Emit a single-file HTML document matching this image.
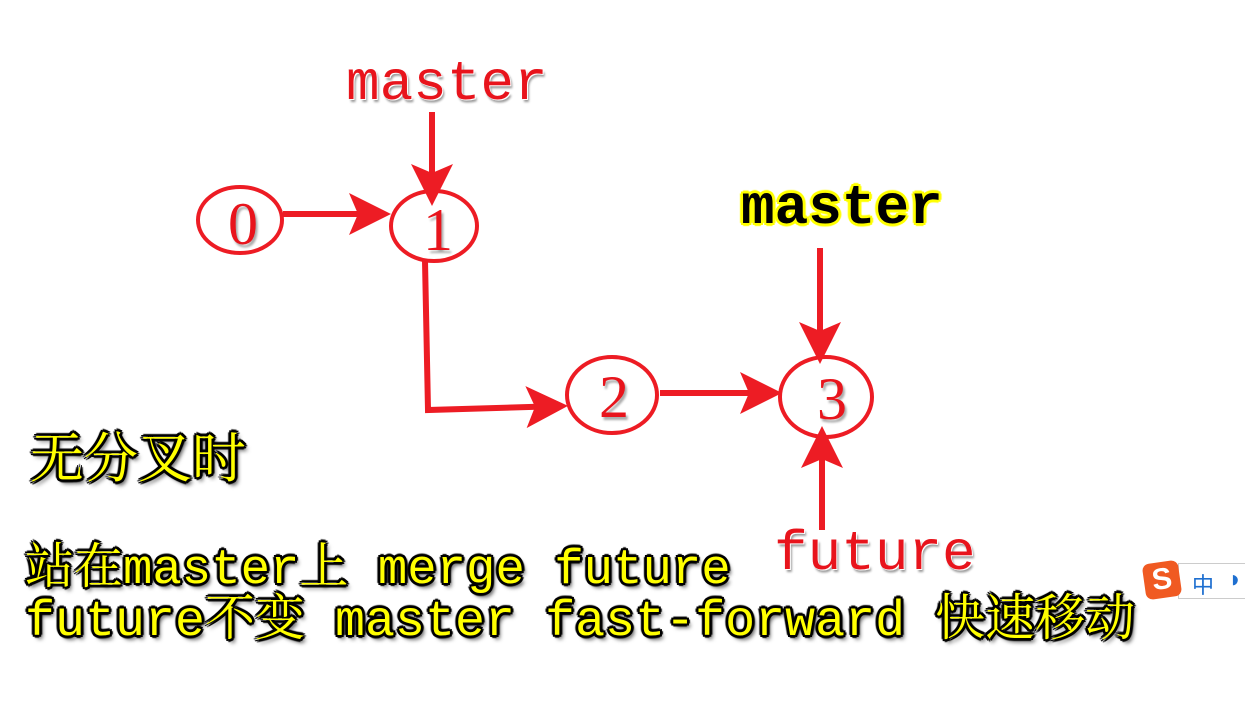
<!DOCTYPE html>
<html><head><meta charset="utf-8"><style>
body{margin:0;width:1245px;height:720px;background:#fff;overflow:hidden;position:relative}
.t{position:absolute;white-space:pre;line-height:1}
.yl{font-family:"Liberation Mono","Noto Serif CJK SC",monospace;color:#ffff00;text-shadow:-2px -2px 0 #000,2px -2px 0 #000,-2px 2px 0 #000,2px 2px 0 #000,0 3px 1px #000,3px 0 1px #000,0 -3px 1px #000,-3px 0 1px #000,3px 4px 4px #444}
.rd{font-family:"Liberation Mono",monospace;color:#e8141c;text-shadow:1px 1px 0 #fff,2px 3px 2px #999}
</style></head><body>
<svg width="1245" height="720" style="position:absolute;left:0;top:0">
<defs><marker id="a" markerWidth="7" markerHeight="7" refX="6" refY="3.5" orient="auto"><path d="M0,0 L7,3.5 L0,7 L1.5,3.5 Z" fill="#ed1c24"/></marker></defs>
<g fill="none" stroke="#ed1c24" stroke-width="4">
<ellipse cx="240" cy="220" rx="42" ry="33"/>
<ellipse cx="434" cy="226" rx="43" ry="35"/>
<ellipse cx="612" cy="395" rx="45" ry="38"/>
<ellipse cx="826" cy="397" rx="46" ry="40"/>
<path d="M283,214 L385,214" stroke-width="6" marker-end="url(#a)"/>
<path d="M432,112 L432,200" stroke-width="6" marker-end="url(#a)"/>
<path d="M425,261 L428,410 L562,406" stroke-width="6" marker-end="url(#a)"/>
<path d="M660,393 L776,393" stroke-width="6" marker-end="url(#a)"/>
<path d="M820,248 L820,358" stroke-width="6" marker-end="url(#a)"/>
<path d="M822,530 L822,432" stroke-width="6" marker-end="url(#a)"/>
</g>
<g font-family="Liberation Serif,serif" font-size="60" fill="#e8141c" text-anchor="middle" style="text-shadow:2px 3px 2px #aaa">
<text x="243" y="244">0</text><text x="438" y="250">1</text><text x="614" y="417">2</text><text x="832" y="419">3</text>
</g>
</svg>
<div class="t rd" style="left:346px;top:56px;font-size:56px">master</div>
<div class="t rd" style="left:774px;top:526px;font-size:56px">future</div>
<div class="t" style="left:741px;top:180px;font-family:'Liberation Mono',monospace;font-size:56px;font-weight:bold;color:#000;text-shadow:-2px -2px 0 #ff0,2px -2px 0 #ff0,-2px 2px 0 #ff0,2px 2px 0 #ff0,0 3px 1px #ff0,3px 0 1px #ff0,0 -3px 1px #ff0,-3px 0 1px #ff0">master</div>
<div class="t yl" style="left:30px;top:428px;font-size:54px;font-family:'Noto Serif CJK SC',serif">无分叉时</div>
<div class="t yl" style="left:25px;top:546px;font-size:49px">站在master上 merge future</div>
<div class="t yl" style="left:25px;top:598px;font-size:50px">future不变 master fast-forward 快速移动</div>
<div style="position:absolute;left:1178px;top:563px;width:80px;height:34px;border:1px solid #ccc;border-right:none;background:#fff"></div>
<div style="position:absolute;left:1144px;top:562px;width:36px;height:36px;background:#f05a22;border-radius:7px;transform:rotate(-8deg);color:#fff;font:bold 30px 'Liberation Sans',sans-serif;text-align:center;line-height:36px">S</div>
<div class="t" style="left:1192px;top:568px;font:22px 'Noto Sans CJK SC',sans-serif;color:#1e6fd0">中</div>
<div class="t" style="left:1228px;top:566px;font:bold 24px 'Liberation Sans',sans-serif;color:#1e6fd0">◗</div>
</body></html>
